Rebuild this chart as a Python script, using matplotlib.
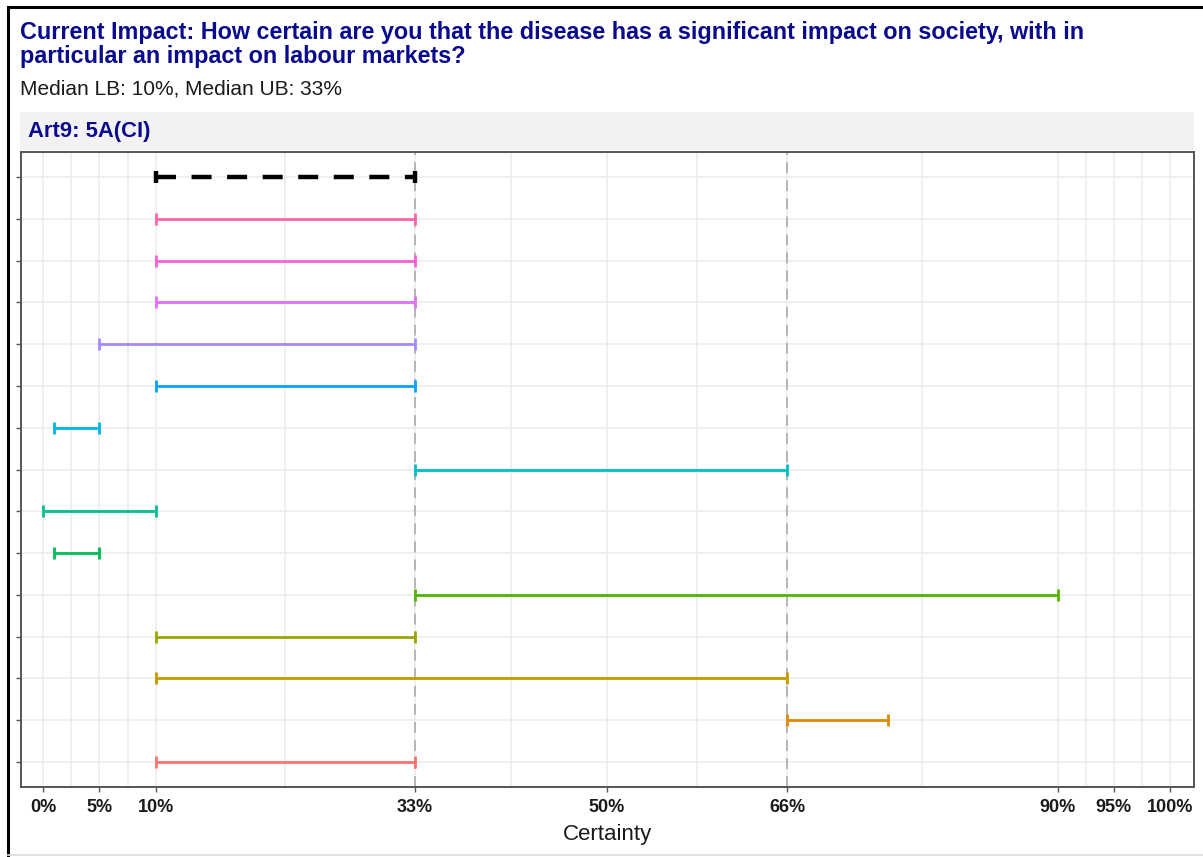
import matplotlib
matplotlib.use("Agg")
import matplotlib.pyplot as plt
from matplotlib.patches import Rectangle
from matplotlib.lines import Line2D

# dados: respondentes de baixo para cima, depois a mediana no topo
lower = [10, 66, 10, 10, 33, 1, 0, 33, 1, 10, 5, 10, 10, 10]
upper = [33, 75, 66, 33, 90, 5, 10, 66, 5, 33, 33, 33, 33, 33]
median_lb = 10
median_ub = 33

cores = ["#F8766D", "#E38900", "#C49A00", "#99A800", "#53B400", "#00BC56", "#00C094",
         "#00BFC4", "#00B6EB", "#06A4FF", "#A58AFF", "#DF70F8", "#FB61D7", "#FF66A8"]

ticks_x = [0, 5, 10, 33, 50, 66, 90, 95, 100]
rotulos_x = ["0%", "5%", "10%", "33%", "50%", "66%", "90%", "95%", "100%"]
linhas_ref = [33, 66]

titulo = ("Current Impact: How certain are you that the disease has a significant impact on society, with in\n"
          "particular an impact on labour markets?")
subtitulo = "Median LB: 10%, Median UB: 33%"
faceta = "Art9: 5A(CI)"

plt.rcParams['font.family'] = ['Liberation Sans', 'DejaVu Sans']
azul = "#0A0A8C"

fig = plt.figure(figsize=(12.03, 8.57), dpi=100)
ax = fig.add_axes([0.01746, 0.0817, 0.975, 0.7409])

# grade: principais e secundarias (pontos medios)
menores = [(a + b) / 2 for a, b in zip(ticks_x[:-1], ticks_x[1:])]
for xv in ticks_x + menores:
    ax.axvline(xv, color="#EBEBEB", lw=1.1, zorder=0)
n = len(lower) + 1
for yv in range(1, n + 1):
    ax.axhline(yv, color="#EBEBEB", lw=1.1, zorder=0)

for xv in linhas_ref:
    ax.axvline(xv, color="#B0B0B0", lw=1.3, ls=(0, (6, 4)), zorder=1)

# barras dos respondentes
for i, (lo, hi) in enumerate(zip(lower, upper)):
    y = i + 1
    mid = (lo + hi) / 2
    ax.errorbar([mid], [y], xerr=[[mid - lo], [hi - mid]], fmt='none',
                ecolor=cores[i], elinewidth=2.0, capsize=4.3, capthick=2.0, zorder=3)

# mediana
mid = (median_lb + median_ub) / 2
eb = ax.errorbar([mid], [n], xerr=[[mid - median_lb], [median_ub - mid]], fmt='none',
                 ecolor="black", elinewidth=3.2, capsize=4, capthick=3.2, zorder=4)
eb[2][0].set_linestyle((0, (4.5, 3.5)))

ax.set_xlim(-1.95, 102.1)
ax.set_ylim(0.4, n + 0.6)
ax.set_xticks(ticks_x)
ax.set_xticklabels(rotulos_x, fontweight="bold", fontsize=13, color="#1a1a1a")
ax.set_yticks(range(1, n + 1))
ax.set_yticklabels([])
ax.tick_params(axis="both", color="#555555", length=3.5, width=1)
ax.tick_params(axis="x", pad=5)
ax.set_xlabel("Certainty", fontsize=16, color="#1a1a1a", labelpad=6)
for s in ax.spines.values():
    s.set_color("#555555")
    s.set_linewidth(1.4)

# faixa da faceta
fig.add_artist(Rectangle((0.0166, 0.825), 0.9759, 0.0443, transform=fig.transFigure,
                         facecolor="#F2F2F2", edgecolor="none"))
fig.text(0.0233, 0.846, faceta, fontsize=15.8, fontweight="bold", color=azul, va="center")

fig.text(0.0166, 0.976, titulo, fontsize=16.8, fontweight="bold", color=azul,
         va="top", linespacing=1.1)
fig.text(0.0166, 0.896, subtitulo, fontsize=15, color="#1a1a1a", va="center")

# moldura da captura
fig.add_artist(Line2D([0.0066, 0.0066], [0, 0.992], transform=fig.transFigure, color="black", lw=2.2))
fig.add_artist(Line2D([0.0066, 1], [0.992, 0.992], transform=fig.transFigure, color="black", lw=2.2))
fig.add_artist(Line2D([0.0066, 1], [0.002, 0.002], transform=fig.transFigure, color="#DDDDDD", lw=1.2))

fig.savefig("out.png", dpi=100, facecolor="white")
